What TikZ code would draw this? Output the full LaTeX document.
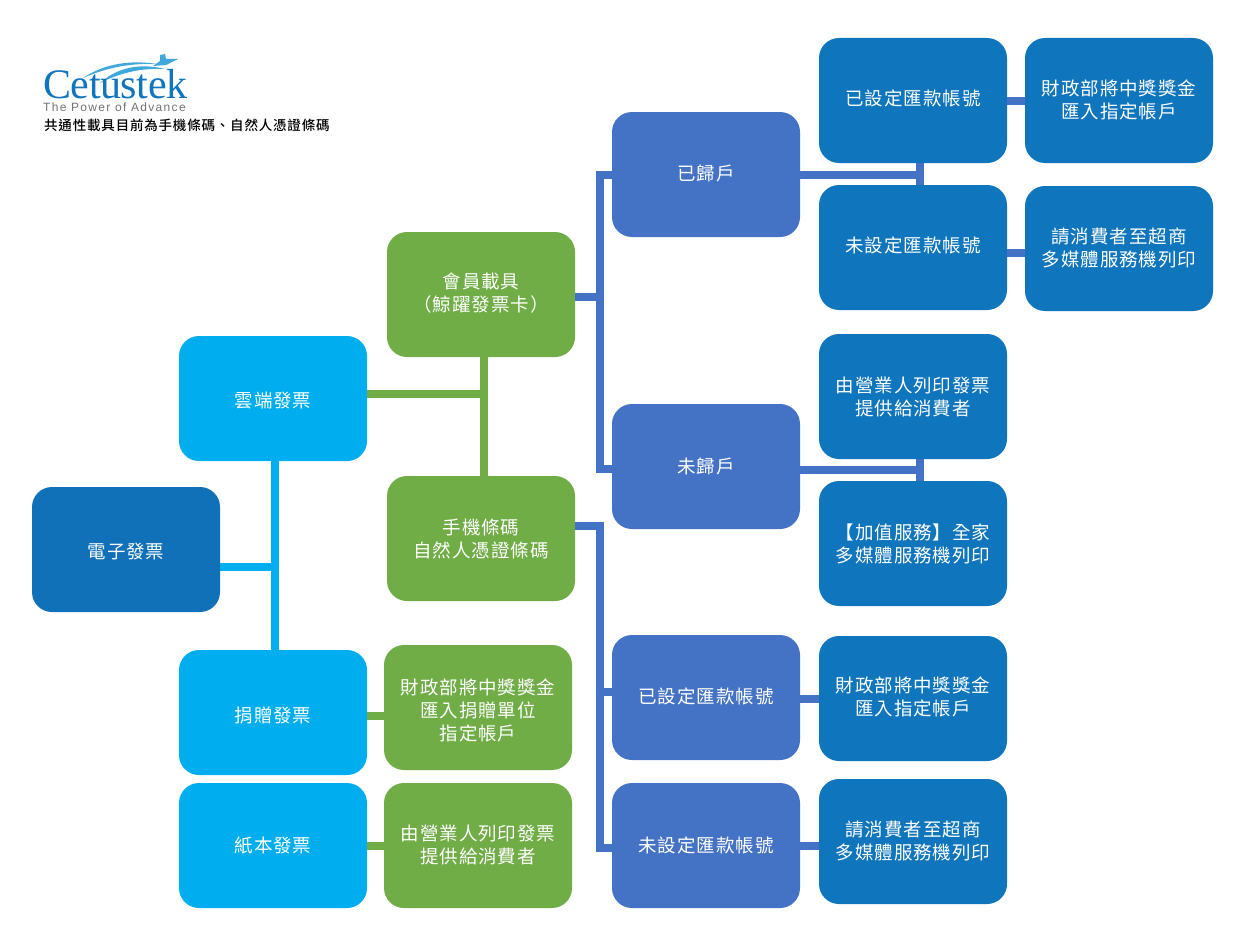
\documentclass[tikz,border=0pt]{standalone}
\usepackage{fontspec}
\newfontfamily\cjk[LetterSpace=5]{Noto Sans CJK TC}
\newfontfamily\cjkb[LetterSpace=6]{Noto Sans CJK TC Medium}
\newfontfamily\logoserif[LetterSpace=-1]{Liberation Serif}
\newfontfamily\logosans[LetterSpace=11]{Liberation Sans}
\definecolor{cCyan}{HTML}{00AEEF}
\definecolor{cGreen}{HTML}{70AD47}
\definecolor{cBlue}{HTML}{4472C4}
\definecolor{cDark}{HTML}{0F75BC}
\definecolor{cRoot}{HTML}{1070B8}
\definecolor{cSwoosh}{HTML}{3FA9DC}
\tikzset{
  card/.style={rectangle,rounded corners=20pt,minimum width=188pt,minimum height=125pt,inner sep=0pt},
  cardtext/.style={inner sep=0pt,text=white,align=center,font=\cjk\fontsize{18.5}{23}\selectfont},
  cyanbox/.style={card,fill=cCyan},
  greenbox/.style={card,fill=cGreen},
  bluebox/.style={card,fill=cBlue},
  darkbox/.style={card,fill=cDark},
  rootbox/.style={card,fill=cRoot},
  linkc/.style={draw=cCyan,line width=8pt},
  linkg/.style={draw=cGreen,line width=8pt},
  linkb/.style={draw=cBlue,line width=8pt}
}
% style, name, position, text shift (up), text
\newcommand\cardnode[5]{\node[#1,label={[cardtext,name=#2text,yshift=#4pt]center:{#5}}] (#2) at (#3) {};}
\begin{document}
\begin{tikzpicture}[x=1pt,y=-1pt]
\useasboundingbox (0,0) rectangle (1250,950);
\fill[white] (0,0) rectangle (1250,950);
% junctions
\coordinate (jc) at (275,567);
\coordinate (jg) at (484,394);
\coordinate (jb1) at (600,297);
\coordinate (jb1t) at (600,175);
\coordinate (jb1b) at (600,469);
\coordinate (jb2) at (600,526);
\coordinate (jb2m) at (600,692);
\coordinate (jb2b) at (600,848);
\coordinate (ja) at (920,175);
\coordinate (jn) at (920,470);
% boxes
\cardnode{rootbox}{root}{126,549.5}{-2}{電子發票}
\cardnode{cyanbox}{cloud}{273,398.5}{-2.5}{雲端發票}
\cardnode{cyanbox}{donate}{273,712.5}{-2.5}{捐贈發票}
\cardnode{cyanbox}{paper}{273,845.5}{0}{紙本發票}
\cardnode{greenbox}{member}{481,294.5}{1}{會員載具\\（鯨躍發票卡）}
\cardnode{greenbox}{phone}{481,538.5}{0}{手機條碼\\自然人憑證條碼}
\cardnode{greenbox}{dtext}{478,707.5}{-3}{財政部將中獎獎金\\匯入捐贈單位\\指定帳戶}
\cardnode{greenbox}{ptext}{478,845.5}{1}{由營業人列印發票\\提供給消費者}
\cardnode{bluebox}{reg}{706,174.5}{1}{已歸戶}
\cardnode{bluebox}{unreg}{706,466.5}{0}{未歸戶}
\cardnode{bluebox}{set}{706,697.5}{1}{已設定匯款帳號}
\cardnode{bluebox}{unset}{706,845.5}{0}{未設定匯款帳號}
\cardnode{darkbox}{aset}{913,100.5}{2}{已設定匯款帳號}
\cardnode{darkbox}{aunset}{913,247.5}{2}{未設定匯款帳號}
\cardnode{darkbox}{atext}{1119,100.5}{1}{財政部將中獎獎金\\匯入指定帳戶}
\cardnode{darkbox}{utext}{1119,248.5}{1}{請消費者至超商\\多媒體服務機列印}
\cardnode{darkbox}{nprint}{913,396.5}{0}{由營業人列印發票\\提供給消費者}
\cardnode{darkbox}{nvalue}{913,543.5}{0}{【加值服務】全家\\多媒體服務機列印}
\cardnode{darkbox}{stext}{913,698.5}{1.5}{財政部將中獎獎金\\匯入指定帳戶}
\cardnode{darkbox}{untext}{913,841.5}{1}{請消費者至超商\\多媒體服務機列印}
% connectors
\draw[linkc] (root.east |- jc) -- (jc);
\draw[linkc] (cloud.south -| jc) -- (donate.north -| jc);
\draw[linkg] (cloud.east |- jg) -- (jg);
\draw[linkg] (member.south -| jg) -- (phone.north -| jg);
\draw[linkg] (donate.east |- 0,716) -- (dtext.west |- 0,716);
\draw[linkg] (paper.east |- 0,846) -- (ptext.west |- 0,846);
\draw[linkb] (member.east |- jb1) -- (jb1);
\draw[linkb] (reg.west |- jb1t) -- (jb1t) -- (jb1b) -- (unreg.west |- jb1b);
\draw[linkb] (phone.east |- jb2) -- (jb2) -- (jb2b) -- (unset.west |- jb2b);
\draw[linkb] (jb2m) -- (set.west |- jb2m);
\draw[linkb] (reg.east |- ja) -- (ja);
\draw[linkb] (aset.south -| ja) -- (aunset.north -| ja);
\draw[linkb] (unreg.east |- jn) -- (jn);
\draw[linkb] (nprint.south -| jn) -- (nvalue.north -| jn);
\draw[linkb] (aset.east |- 0,101) -- (atext.west |- 0,101);
\draw[linkb] (aunset.east |- 0,253) -- (utext.west |- 0,253);
\draw[linkb] (set.east |- 0,699) -- (stext.west |- 0,699);
\draw[linkb] (unset.east |- 0,846) -- (untext.west |- 0,846);
% logo
\fill[cSwoosh] (83,78) .. controls (105,63) and (132,60) .. (157,64) .. controls (132,63) and (108,67) .. (83,78) -- cycle;
\fill[cSwoosh] (100,83) .. controls (118,67) and (140,63) .. (165,69) .. controls (142,68) and (122,72) .. (100,83) -- cycle;
\fill[cSwoosh] (153,66) -- (160,61) -- (160,55) -- (165,54) -- (166,59) -- (178,59) -- (166,65) -- cycle;
\node[inner sep=0pt,anchor=base west,text=cDark,font=\logoserif\fontsize{42}{42}\selectfont] (logo) at (43,98) {Cetustek};
\node[inner sep=0pt,anchor=base west,text=black!55,font=\logosans\fontsize{12}{12}\selectfont] (tag) at (43,111) {The Power of Advance};
\node[inner sep=0pt,anchor=base west,text=black,font=\cjkb\fontsize{13.5}{16}\selectfont] (note) at (44,130.5) {共通性載具目前為手機條碼、自然人憑證條碼};
\end{tikzpicture}
\end{document}
